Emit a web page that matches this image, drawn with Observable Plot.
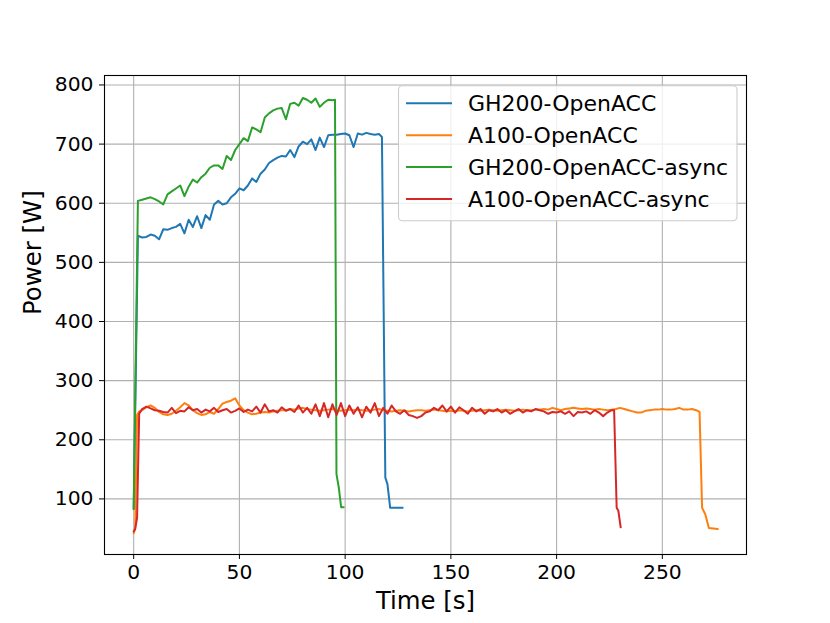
<!DOCTYPE html>
<html><head><meta charset="utf-8">
<script src="https://cdn.jsdelivr.net/npm/d3@7"></script>
<script src="https://cdn.jsdelivr.net/npm/@observablehq/plot@0.6"></script>
<style>html,body{margin:0;padding:0;background:#fff;} svg{display:block}</style>
</head><body><div id="chart"></div>
<script>
// ---- data ----
const seriesNames = ["GH200-OpenACC", "A100-OpenACC", "GH200-OpenACC-async", "A100-OpenACC-async"];
const seriesColors = ["#1f77b4", "#ff7f0e", "#2ca02c", "#d62728"];
const xTicks = [0, 50, 100, 150, 200, 250];
const yTicks = [100, 200, 300, 400, 500, 600, 700, 800];

// GH200-OpenACC
const gh200T = [0, ...d3.range(2, 117, 2), 117.4, 119, 120, 121.3, 127.2];
const gh200P = [83,
  545,542,543,547,545,539,556,555,558,560,
  565,549,572,560,578,558,580,572,598,604,
  598,600,610,616,625,622,630,642,636,650,
  657,668,673,677,680,679,690,678,696,704,
  700,708,690,711,695,715,716,716,717,718,
  715,695,718,716,719,717,716,717,
  712,136,125,85,85];

// A100-OpenACC
const a100T = [0, 0.7, 1.6, 2.6, ...d3.range(4, 267, 2), 267.6, 268.8, 270.3, 272, 276.2];
const a100P = [42, 50, 242, 248,
  250,255,258,254,247,243,242,244,249,255,
  262,258,250,245,242,243,247,244,252,261,
  264,266,270,258,250,246,243,244,246,247,
  246,248,249,250,250,252,251,253,254,252,
  251,250,249,250,251,252,250,249,250,251,
  250,251,250,249,250,251,252,250,249,248,
  249,250,249,248,249,250,250,249,250,251,
  250,249,248,249,248,250,249,248,249,250,
  249,250,251,250,249,250,251,250,249,250,
  251,250,250,251,251,252,251,254,252,250,
  252,253,254,253,252,253,252,251,252,251,
  250,251,252,254,252,250,248,246,246,249,
  250,251,251,252,251,251,252,254,251,251,
  252,250,
  247, 85, 74, 51, 49];

// GH200-OpenACC-async
const gh200aT = [0, 2, ...d3.range(4, 95, 2), 95.2, 95.9, 97, 98.1, 99.3];
const gh200aP = [83, 604,
  606,608,610,607,603,598,615,620,625,630,
  612,628,640,635,644,650,660,664,664,658,
  680,673,690,700,710,705,728,725,720,745,
  752,757,760,761,742,768,770,765,778,775,
  770,777,763,770,775,774,
  775, 142, 119, 86, 86];

// A100-OpenACC-async
const a100aT = [0, 0.7, 1.6, 2.6, ...d3.range(4, 227, 2), 227.2, 228.4, 229.2, 230.3];
const a100aP = [45, 49, 68, 244,
  252,256,253,250,249,247,246,254,245,249,
  248,255,250,252,246,251,248,254,247,250,
  252,246,249,253,247,251,248,256,246,260,
  248,250,246,255,249,252,247,258,246,254,
  244,260,240,262,238,260,242,262,240,258,
  244,255,238,256,246,262,240,254,244,258,
  248,244,250,242,240,237,240,246,248,254,
  250,258,248,256,246,255,250,244,254,248,
  252,244,250,248,252,246,250,244,248,252,
  246,250,248,252,250,248,244,247,246,248,
  244,248,240,247,246,248,244,250,246,240,
  246,250,
  250, 85, 80, 52];

// ---- build table ----
const seriesData = [
  [seriesNames[0], gh200T, gh200P],
  [seriesNames[1], a100T, a100P],
  [seriesNames[2], gh200aT, gh200aP],
  [seriesNames[3], a100aT, a100aP]
];
const rows = seriesData.flatMap(([name, T, P]) => T.map((t, i) => ({series: name, time: t, power: P[i]})));

const plot = Plot.plot({
  width: 830, height: 623,
  marginLeft: 104, marginRight: 84, marginTop: 75, marginBottom: 69,
  style: {fontFamily: "DejaVu Sans", fontSize: "20px", background: "white", color: "black", overflow: "visible"},
  x: {domain: [-13.8, 289.8], label: null},
  y: {domain: [6, 816], label: null},
  color: {domain: seriesNames, range: seriesColors},
  marks: [
    Plot.gridX(xTicks, {stroke: "#b0b0b0", strokeOpacity: 1, strokeWidth: 1.1}),
    Plot.gridY(yTicks, {stroke: "#b0b0b0", strokeOpacity: 1, strokeWidth: 1.1}),
    ...seriesNames.map(n => Plot.line(rows.filter(r => r.series === n), {x: "time", y: "power", stroke: "series", strokeWidth: 2})),
    Plot.frame({stroke: "black", strokeWidth: 1.1}),
    Plot.axisX(xTicks, {tickSize: 5, tickPadding: 5, fontSize: 20.3, label: null}),
    Plot.axisY(yTicks, {tickSize: 5, tickPadding: 6, fontSize: 20.3, label: null}),
    Plot.text(["Time [s]"], {frameAnchor: "bottom", dy: 54, fontSize: 24.4, fill: "black"}),
    Plot.text(["Power [W]"], {frameAnchor: "left", rotate: -90, dx: -71, fontSize: 24.4, fill: "black"})
  ]
});
document.getElementById("chart").appendChild(plot);

// ---- legend (matplotlib style, upper right) ----
const svg = d3.select(plot);
const lg = svg.append("g").attr("font-family", "DejaVu Sans").attr("font-size", 22).attr("text-anchor", "start");
lg.append("rect")
  .attr("x", 398.5).attr("y", 85.7).attr("width", 338.5).attr("height", 135)
  .attr("rx", 4).attr("fill", "white").attr("fill-opacity", 0.8)
  .attr("stroke", "#cccccc").attr("stroke-width", 1.1);
seriesNames.forEach((n, i) => {
  const yy = 103.3 + i * 31.9;
  lg.append("line").attr("x1", 406).attr("x2", 452).attr("y1", yy).attr("y2", yy)
    .attr("stroke", seriesColors[i]).attr("stroke-width", 2);
  lg.append("text").attr("x", 468).attr("y", yy + 8).attr("fill", "black")
    .attr("text-anchor", "start").text(n);
});
</script>
</body></html>
